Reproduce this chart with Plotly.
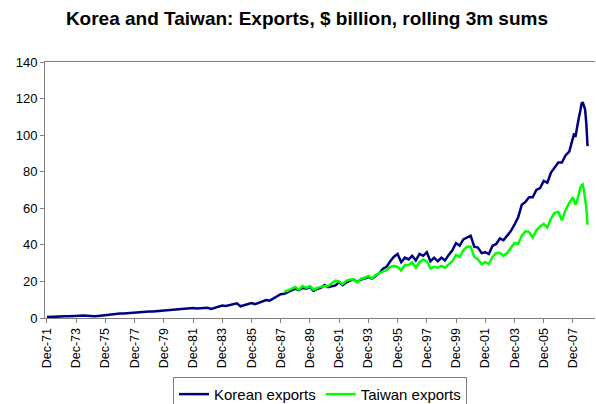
import plotly.graph_objects as go

# Korean exports, rolling 3m sums ($ bn): quarterly readings, monthly in 2008
korea_dates = ["1971-12"] + [f"{y}-{m:02d}" for y in range(1972, 2008) for m in (3, 6, 9, 12)] + [f"2008-{m:02d}" for m in range(1, 13)]
korea_vals = [
    0.5,
    0.5, 0.6, 0.7, 0.8,
    0.9, 1.0, 1.2, 1.3,
    1.2, 1.3, 1.1, 1.0,
    0.9, 1.1, 1.4, 1.6,
    1.8, 2.0, 2.3, 2.5,
    2.4, 2.6, 2.8, 3.0,
    2.9, 3.2, 3.4, 3.6,
    3.5, 3.7, 3.9, 4.1,
    4.0, 4.2, 4.4, 4.8,
    4.8, 5.0, 5.3, 5.5,
    5.2, 5.4, 5.7, 5.6,
    4.9, 5.6, 6.3, 6.8,
    6.6, 7.2, 7.5, 8.0,
    6.4, 7.0, 7.2, 8.2,
    7.5, 8.4, 9.0, 9.8,
    9.5, 10.8, 12.0, 13.0,
    13.2, 14.2, 15.0, 16.0,
    15.2, 16.5, 16.0, 17.0,
    14.8, 16.0, 16.5, 18.0,
    16.8, 17.5, 17.8, 19.5,
    18.0, 19.5, 20.5, 21.0,
    19.8, 21.0, 21.5, 22.5,
    21.5, 23.0, 24.5, 27.0,
    28.0, 31.0, 33.5, 35.0,
    30.5, 33.0, 32.0, 34.0,
    31.5, 35.0, 34.0, 36.0,
    31.0, 33.0, 31.0, 33.0,
    31.5, 34.5, 37.0, 41.0,
    39.5, 43.0, 44.0, 45.0,
    39.0, 38.5, 35.5, 36.0,
    35.0, 39.5, 40.5, 43.5,
    42.5, 45.0, 47.5, 51.0,
    55.0, 62.0, 63.5, 66.0,
    66.0, 70.0, 71.0, 75.0,
    74.0, 79.5, 82.0, 85.0,
    85.0, 89.0, 91.0, 99.0,
    101.0, 99.0, 103.0, 106.0, 110.0, 113.0, 117.0, 118.0, 116.0, 114.0, 106.0, 94.0,
]

# Taiwan exports, rolling 3m sums ($ bn): from 1988
taiwan_dates = [f"{y}-{m:02d}" for y in range(1988, 2008) for m in (3, 6, 9, 12)] + [f"2008-{m:02d}" for m in range(1, 13)]
taiwan_vals = [
    14.5, 15.0, 16.0, 17.0,
    15.5, 17.5, 16.5, 17.5,
    15.5, 16.5, 17.0, 17.5,
    17.5, 19.0, 20.5, 20.0,
    18.5, 20.5, 21.0, 21.0,
    19.5, 21.5, 22.0, 23.0,
    21.5, 23.5, 24.5, 25.5,
    26.0, 28.0, 28.5, 28.0,
    26.0, 29.0, 29.0, 30.5,
    27.5, 30.5, 32.0, 31.0,
    27.0, 28.0, 27.5, 28.5,
    27.5, 29.5, 31.0, 34.5,
    33.5, 37.0, 39.0, 39.0,
    33.5, 32.0, 29.5, 30.5,
    29.5, 33.5, 35.5, 35.5,
    34.0, 35.5, 38.5, 41.0,
    40.5, 45.0, 47.5, 47.0,
    44.0, 48.0, 50.0, 51.5,
    49.5, 54.5, 57.5, 58.0,
    53.5, 59.0, 63.0, 66.0,
    64.0, 62.0, 63.0, 66.0, 69.0, 71.0, 72.5, 73.0, 70.0, 66.0, 60.0, 51.0,
]

tick_years = list(range(1971, 2008, 2))
tick_vals = [f"{y}-12-01" for y in tick_years]
tick_text = [f"Dec-{y % 100:02d}" for y in tick_years]

fig = go.Figure()
fig.add_trace(go.Scatter(x=[d + "-01" for d in korea_dates], y=korea_vals, mode="lines",
                         name="Korean exports", line=dict(color="#000080", width=2.5)))
fig.add_trace(go.Scatter(x=[d + "-01" for d in taiwan_dates], y=taiwan_vals, mode="lines",
                         name="Taiwan exports", line=dict(color="#00FF00", width=2.5)))

fig.update_layout(
    width=596, height=404,
    margin=dict(l=45, r=1, t=62, b=86, autoexpand=False),
    paper_bgcolor="white", plot_bgcolor="white",
    font=dict(family="Liberation Sans, Arial, sans-serif", color="black"),
    title=dict(text="<b>Korea and Taiwan: Exports, $ billion, rolling 3m sums</b>",
               x=0.515, xanchor="center", y=0.955, yanchor="middle", font=dict(size=19)),
    showlegend=True,
    legend=dict(orientation="h", x=0.5, xanchor="center", y=-0.23, yanchor="top",
                bordercolor="#808080", borderwidth=1, font=dict(size=15),
                itemwidth=30, tracegroupgap=0),
    xaxis=dict(type="date", range=["1971-10-15", "2009-06-05"], automargin=False,
               tickmode="array", tickvals=tick_vals, ticktext=tick_text, tickangle=-90,
               tickfont=dict(size=12.5), ticks="outside", ticklen=4, tickcolor="#808080",
               showline=True, linecolor="#808080", linewidth=1, mirror=True,
               showgrid=False, zeroline=False),
    yaxis=dict(range=[0, 140], dtick=20, tickfont=dict(size=13), automargin=False,
               ticks="outside", ticklen=4, tickcolor="#808080",
               showline=True, linecolor="#808080", linewidth=1,
               showgrid=False, zeroline=False),
)

fig.write_html("out.html", config={"displayModeBar": False},
               post_script="document.body.style.margin='0';")
